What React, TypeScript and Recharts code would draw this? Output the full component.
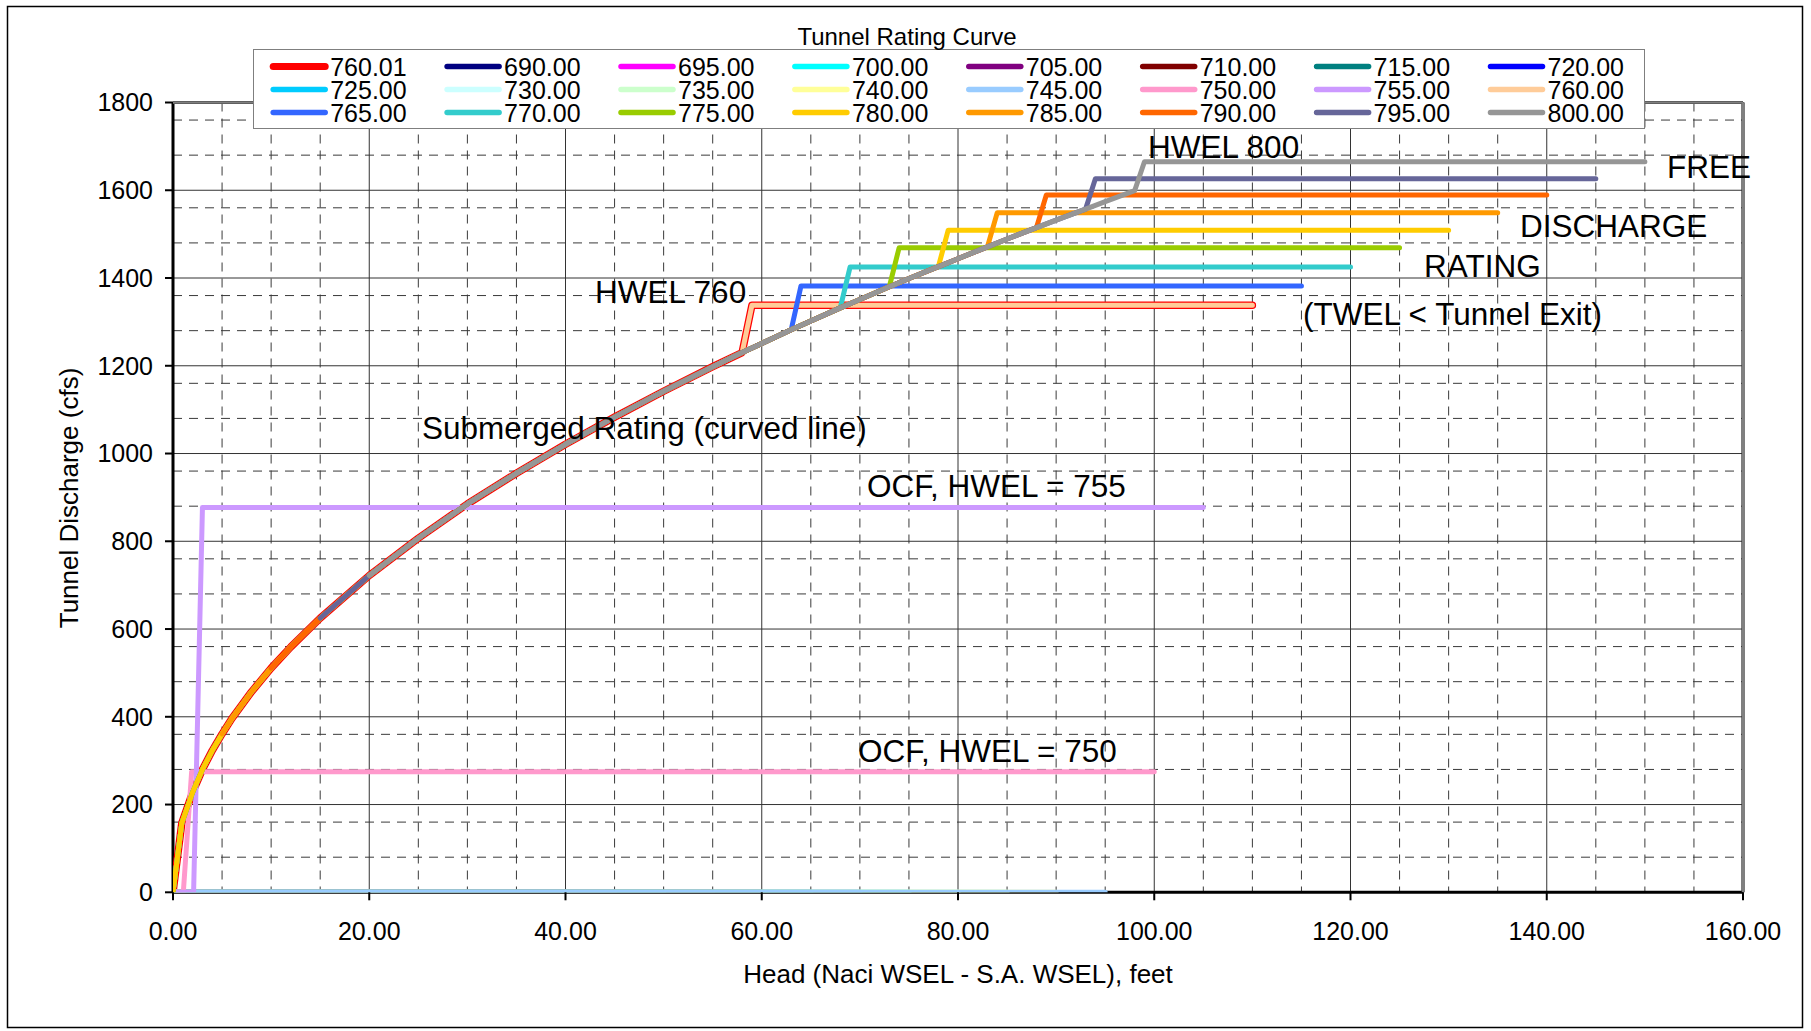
import React from 'react';
import { LineChart, Line, XAxis, YAxis, CartesianGrid, Legend, ReferenceLine } from 'recharts';

// ---------------- DATA ----------------
const SERIES_NAMES = ['760.01', '690.00', '695.00', '700.00', '705.00', '710.00', '715.00', '720.00',
  '725.00', '730.00', '735.00', '740.00', '745.00', '750.00', '755.00', '760.00',
  '765.00', '770.00', '775.00', '780.00', '785.00', '790.00', '795.00', '800.00'];

// Submerged rating (curved line): head (ft) vs discharge (cfs)
const CURVE_HEAD = [0, 0.9, 2, 3, 4, 5, 6, 8, 10, 12, 15, 20, 25, 30, 35, 40, 45, 50, 55, 58, 60, 63, 65, 68, 70, 73, 75, 78, 80, 83, 85, 88, 90, 93, 95, 98];
const CURVE_Q = [0, 158, 228, 280, 323, 361, 396, 457, 511, 559, 625, 722, 807, 885, 955, 1021, 1083, 1142, 1198, 1230, 1251, 1282, 1302, 1332, 1351, 1380, 1399, 1426, 1444, 1471, 1489, 1515, 1532, 1557, 1574, 1599];

// HWEL 690 - 745 : zero discharge
const ZERO_NAMES = ['690.00', '695.00', '700.00', '705.00', '710.00', '715.00', '720.00', '725.00', '730.00', '735.00', '740.00', '745.00'];
const ZERO_END_HEAD = [40, 45, 50, 55, 60, 65, 70, 75, 80, 85, 90, 95];

// Open channel flow
const OCF750_HEAD = [0, 1.05, 1.9, 100];
const OCF750_Q = [0, 0, 275, 275];
const OCF755_HEAD = [0, 2.1, 3.0, 105];
const OCF755_Q = [0, 0, 877, 877];

// Free discharge rating series
const FREE_NAMES = ['760.01', '760.00', '765.00', '770.00', '775.00', '780.00', '785.00', '790.00', '795.00', '800.00'];
const FREE_CURVE_START = [0, 0, 0, 0, 0, 0, 5, 10, 15, 20];
const FREE_STEP_HEAD = [58, 58, 63, 68, 73, 78, 83, 88, 93, 98];
const FREE_TOP_HEAD = [59, 59, 64, 69, 74, 79, 84, 89, 94, 99];
const FREE_Q = [1338, 1338, 1382, 1425, 1469, 1509, 1549, 1589, 1626, 1665];
const FREE_END_HEAD = [110, 110, 115, 120, 125, 130, 135, 140, 145, 150];

const X_TICKS = [0, 20, 40, 60, 80, 100, 120, 140, 160];
const Y_TICKS = [0, 200, 400, 600, 800, 1000, 1200, 1400, 1600, 1800];
const X_MINOR = [5, 10, 15, 25, 30, 35, 45, 50, 55, 65, 70, 75, 85, 90, 95, 105, 110, 115, 125, 130, 135, 145, 150, 155];
const Y_MINOR = [40, 80, 120, 160, 240, 280, 320, 360, 440, 480, 520, 560, 640, 680, 720, 760, 840, 880, 920, 960,
  1040, 1080, 1120, 1160, 1240, 1280, 1320, 1360, 1440, 1480, 1520, 1560, 1640, 1680, 1720, 1760];
const AXIS_ORIGIN = [0];

const TITLE = 'Tunnel Rating Curve';
const X_TITLE = 'Head (Naci WSEL - S.A. WSEL), feet';
const Y_TITLE = 'Tunnel Discharge (cfs)';

// ---------------- STYLE ----------------
const COLORS = ['#FF0000', '#000080', '#FF00FF', '#00FFFF', '#800080', '#800000', '#008080', '#0000FF',
  '#00CCFF', '#CCFFFF', '#CCFFCC', '#FFFF99', '#99CCFF', '#FF99CC', '#CC99FF', '#FFCC99',
  '#3366FF', '#33CCCC', '#99CC00', '#FFCC00', '#FF9900', '#FF6600', '#666699', '#969696'];
const FONT = '"Liberation Sans", Arial, sans-serif';

function buildPoints(name: string) {
  const zi = ZERO_NAMES.indexOf(name);
  if (zi >= 0) return [{ h: 0, q: 0 }, { h: ZERO_END_HEAD[zi], q: 0 }];
  if (name === '750.00') return OCF750_HEAD.map((h, i) => ({ h, q: OCF750_Q[i] }));
  if (name === '755.00') return OCF755_HEAD.map((h, i) => ({ h, q: OCF755_Q[i] }));
  const fi = FREE_NAMES.indexOf(name);
  const pts = CURVE_HEAD.map((h, i) => ({ h, q: CURVE_Q[i] }))
    .filter((p) => p.h >= FREE_CURVE_START[fi] && p.h <= FREE_STEP_HEAD[fi]);
  pts.push({ h: FREE_TOP_HEAD[fi], q: FREE_Q[fi] });
  pts.push({ h: FREE_END_HEAD[fi], q: FREE_Q[fi] });
  return pts;
}

const SERIES = SERIES_NAMES.map((name, i) => ({ name, color: COLORS[i], points: buildPoints(name) }));

const LegendBox = () => {
  const colW = 173.9;
  const rows = [16.5, 39.5, 62.5];
  return (
    <div style={{ width: 1392, height: 80, boxSizing: 'border-box', border: '1.5px solid #7f7f7f', background: '#fff', position: 'relative' }}>
      <svg width={1390} height={78} style={{ display: 'block', position: 'absolute', left: 0, top: 0 }}>
        {SERIES.map((s, i) => {
          const r = Math.floor(i / 8);
          const c = i % 8;
          const x = 19.2 + c * colW;
          const y = rows[r];
          return (
            <g key={s.name}>
              <line x1={x} x2={x + 52} y1={y} y2={y} stroke={s.color} strokeWidth={i === 0 ? 7 : 5.5} strokeLinecap="round" />
              <text x={x + 57} y={y + 9} fontSize={25} fontFamily={FONT} fill="#000">{s.name}</text>
            </g>
          );
        })}
      </svg>
    </div>
  );
};

const NOTES = [
  { t: 'HWEL 800', x: 1148, y: 158 },
  { t: 'FREE', x: 1667, y: 178 },
  { t: 'DISCHARGE', x: 1520, y: 237 },
  { t: 'RATING', x: 1424, y: 277 },
  { t: '(TWEL < Tunnel Exit)', x: 1303, y: 325 },
  { t: 'HWEL 760', x: 595, y: 303 },
  { t: 'Submerged Rating (curved line)', x: 422, y: 439 },
  { t: 'OCF, HWEL = 755', x: 867, y: 497 },
  { t: 'OCF, HWEL = 750', x: 858, y: 762 },
];

export default function App() {
  return (
    <div style={{ position: 'absolute', left: 0, top: 0, width: 1811, height: 1031, background: '#fff' }}>
      <LineChart width={1811} height={1031} margin={{ top: 102.5, right: 68, bottom: 78.7, left: 73 }}>
        <XAxis xAxisId="minor" type="number" dataKey="h" domain={[0, 160]} ticks={X_MINOR} hide allowDataOverflow />
        <YAxis yAxisId="minor" type="number" domain={[0, 1800]} ticks={Y_MINOR} hide allowDataOverflow />
        <XAxis xAxisId="origin" type="number" dataKey="h" domain={[0, 160]} ticks={AXIS_ORIGIN} hide allowDataOverflow />
        <YAxis yAxisId="origin" type="number" domain={[0, 1800]} ticks={AXIS_ORIGIN} hide allowDataOverflow />
        <CartesianGrid xAxisId="minor" yAxisId="minor" stroke="#3a3a3a" strokeWidth={1} strokeDasharray="9 7" />
        <CartesianGrid stroke="#333" strokeWidth={1} />
        <CartesianGrid xAxisId="origin" yAxisId="origin" stroke="#000" strokeWidth={3} />
        <XAxis
          type="number" dataKey="h" domain={[0, 160]} ticks={X_TICKS} allowDataOverflow
          tickFormatter={(v: number) => v.toFixed(2)} height={60}
          axisLine={false} tickLine={{ stroke: '#000', strokeWidth: 2 }} tickSize={8} tickMargin={22}
          tick={{ fill: '#000', fontSize: 25, fontFamily: FONT }}
        />
        <YAxis
          type="number" domain={[0, 1800]} ticks={Y_TICKS} allowDataOverflow width={100}
          axisLine={false} tickLine={{ stroke: '#000', strokeWidth: 2 }} tickSize={8} tickMargin={12}
          tick={{ fill: '#000', fontSize: 25, fontFamily: FONT }}
        />
        <ReferenceLine y={1800} stroke="#808080" strokeWidth={2.5} />
        <ReferenceLine x={160} stroke="#808080" strokeWidth={2.5} />
        {SERIES.map((s, i) => (
          <Line
            key={s.name} name={s.name} data={s.points} dataKey="q" type="linear"
            stroke={s.color} strokeWidth={i === 0 ? 7.5 : 5} dot={false} activeDot={false}
            isAnimationActive={false} strokeLinejoin="round" strokeLinecap="round"
          />
        ))}
        <Legend
          layout="horizontal" verticalAlign="middle" align="center"
          content={() => <LegendBox />}
          wrapperStyle={{ position: 'absolute', left: 253, top: 49, width: 1392, height: 80 }}
        />
      </LineChart>
      <svg width={1811} height={1031} style={{ position: 'absolute', left: 0, top: 0, pointerEvents: 'none' }}>
        <rect x={7.5} y={6.5} width={1795} height={1021} fill="none" stroke="#000" strokeWidth={1.5} />
        <text x={907} y={45} textAnchor="middle" fontSize={24} fontFamily={FONT} fill="#000">{TITLE}</text>
        <text x={958} y={983} textAnchor="middle" fontSize={26} fontFamily={FONT} fill="#000">{X_TITLE}</text>
        <text transform="translate(78,498) rotate(-90)" textAnchor="middle" fontSize={26} fontFamily={FONT} fill="#000">{Y_TITLE}</text>
        {NOTES.map((n) => (
          <text key={n.t} x={n.x} y={n.y} fontSize={31.5} fontFamily={FONT} fill="#000">{n.t}</text>
        ))}
      </svg>
    </div>
  );
}
